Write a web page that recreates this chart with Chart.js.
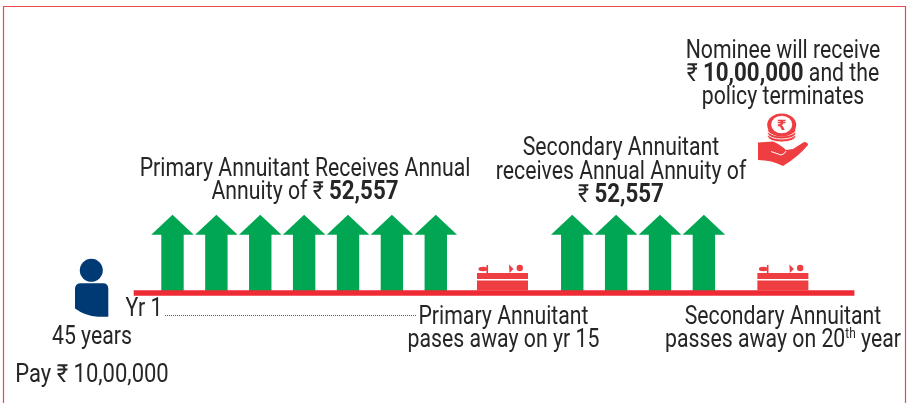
<!DOCTYPE html>
<html>
<head>
<meta charset="utf-8">
<title>Annuity timeline</title>
<script src="https://cdn.jsdelivr.net/npm/chart.js@4"></script>
<style>
    html, body { margin: 0; padding: 0; background: #fff; }
    #wrap { width: 915px; height: 403px; }
</style>
</head>
<body>
<div id="wrap"><canvas id="timeline" width="915" height="403"></canvas></div>
<script>
// timeline slots (not to scale with the years)
const primarySlots = [1, 2, 3, 4, 5, 6, 7];
const secondarySlots = [10.11, 11.11, 12.11, 13.11];
const deathSlots = [8.52, 14.91];
const lineSlots = [0.116, 16.54];
const dottedSlots = [0.83, 6.56];
const annualAnnuity = 52557;
const dottedLevel = -15102;

const GREEN = '#00a651';
const RED = '#ee2a35';
const ICON_RED = '#ef3e42';
const NAVY = '#003a75';
const TEXT = '#262628';

// text lines: [centre x, baseline y, runs, squeeze], a run is [text, style]
const labels = [
    [783, 58, [['Nominee will receive']]],
    [783, 81, [['₹ '], ['10,00,000', 'b'], [' and the']]],
    [783, 104, [['policy terminates']]],
    [621, 155, [['Secondary Annuitant']]],
    [621, 179, [['receives Annual Annuity of']]],
    [621, 202, [['₹ '], ['52,557', 'b']]],
    [305, 176, [['Primary Annuitant Receives Annual']]],
    [305, 199, [['Annuity of ₹ '], ['52,557', 'b']]],
    [144, 316, [['Yr 1']]],
    [503.5, 324, [['Primary Annuitant']]],
    [503.5, 347, [['pases away on yr 15']]],
    [783, 324, [['Secondary Annuitant']]],
    [783, 347, [['passes away on 20'], ['th', 's'], [' year']]],
    [92, 344, [['45 years']]],
    [92, 382, [['Pay ₹ 10,00,000']], 0.88]
];

const SQUEEZE = 0.85;

function runFont(style) {
    if (style === 'b') return '700 25px Roboto';
    if (style === 's') return '400 14px Roboto';
    return '400 25px Roboto';
}

function runSqueeze(style, squeeze) {
    return style === 'b' ? squeeze * 1.05 : squeeze;
}

function drawLabel(ctx, cx, y, runs, squeeze) {
    let width = 0;
    runs.forEach(r => {
        ctx.font = runFont(r[1]);
        width += ctx.measureText(r[0]).width * runSqueeze(r[1], squeeze);
    });
    let x = cx - width / 2;
    runs.forEach(r => {
        const sq = runSqueeze(r[1], squeeze);
        ctx.save();
        ctx.font = runFont(r[1]);
        ctx.fillStyle = TEXT;
        ctx.textBaseline = 'alphabetic';
        ctx.translate(x, r[1] === 's' ? y - 9 : y);
        ctx.scale(sq, 1);
        ctx.fillText(r[0], 0, 0);
        ctx.restore();
        ctx.font = runFont(r[1]);
        x += ctx.measureText(r[0]).width * sq;
    });
}

function drawArrow(ctx, bar) {
    const halfShaft = bar.width / 2;
    const halfHead = halfShaft * 1.9;
    const headBase = bar.y + 20;
    ctx.fillStyle = GREEN;
    ctx.beginPath();
    ctx.moveTo(bar.x, bar.y);
    ctx.lineTo(bar.x + halfHead, headBase);
    ctx.lineTo(bar.x + halfShaft, headBase);
    ctx.lineTo(bar.x + halfShaft, bar.base - 2);
    ctx.lineTo(bar.x - halfShaft, bar.base - 2);
    ctx.lineTo(bar.x - halfShaft, headBase);
    ctx.lineTo(bar.x - halfHead, headBase);
    ctx.closePath();
    ctx.fill();
}

function drawTomb(ctx, x, y) {
    ctx.fillStyle = ICON_RED;
    ctx.fillRect(x - 25.5, y - 12.5, 51, 10);
    ctx.fillRect(x - 25.5, y - 20, 51, 6);
    // lid ornaments
    ctx.beginPath();
    ctx.ellipse(x - 19.5, y - 24, 4.5, 2.2, 0, 0, Math.PI * 2);
    ctx.fill();
    ctx.fillRect(x - 16, y - 28, 1.6, 8);
    ctx.beginPath();
    ctx.arc(x + 17.3, y - 25, 3.2, 0, Math.PI * 2);
    ctx.fill();
    ctx.beginPath();
    ctx.moveTo(x + 6.5, y - 28.5);
    ctx.lineTo(x + 11, y - 24);
    ctx.lineTo(x + 7, y - 20);
    ctx.closePath();
    ctx.fill();
}

function drawPerson(ctx) {
    ctx.fillStyle = NAVY;
    ctx.beginPath();
    ctx.arc(91.3, 270.3, 11.5, 0, Math.PI * 2);
    ctx.fill();
    ctx.beginPath();
    ctx.moveTo(75, 289);
    ctx.quadraticCurveTo(75, 283.3, 81, 283.3);
    ctx.lineTo(103, 283.3);
    ctx.quadraticCurveTo(108.3, 283.3, 108.3, 289);
    ctx.lineTo(108.3, 316.7);
    ctx.lineTo(98, 316.7);
    ctx.quadraticCurveTo(85, 316, 75, 308.5);
    ctx.closePath();
    ctx.fill();
}

function drawCoinHand(ctx) {
    const cx = 781.7;
    ctx.fillStyle = ICON_RED;
    ctx.strokeStyle = '#fff';
    ctx.lineWidth = 0.9;
    // stacked coins, lowest first
    [136.5, 133.5, 130.5].forEach(y => {
        ctx.beginPath();
        ctx.ellipse(cx, y, 14, 5.5, 0, 0, Math.PI * 2);
        ctx.fill();
        ctx.stroke();
    });
    ctx.beginPath();
    ctx.ellipse(cx, 125, 14.5, 11.5, 0, 0, Math.PI * 2);
    ctx.fill();
    ctx.fillStyle = '#fff';
    ctx.beginPath();
    ctx.ellipse(cx, 124.5, 10.5, 8.8, 0, 0, Math.PI * 2);
    ctx.fill();
    ctx.fillStyle = ICON_RED;
    ctx.font = '700 14px "DejaVu Sans"';
    ctx.textAlign = 'center';
    ctx.fillText('₹', cx, 129.5);
    ctx.textAlign = 'left';
    // hand
    ctx.fillStyle = ICON_RED;
    ctx.beginPath();
    ctx.moveTo(758, 142.5);
    ctx.lineTo(773, 141.5);
    ctx.quadraticCurveTo(781, 145, 786, 150);
    ctx.lineTo(793, 149);
    ctx.lineTo(804, 142);
    ctx.quadraticCurveTo(808, 142, 808, 145);
    ctx.quadraticCurveTo(798, 157, 783, 166);
    ctx.quadraticCurveTo(772, 160, 758, 160);
    ctx.closePath();
    ctx.fill();
    ctx.strokeStyle = '#fff';
    ctx.lineWidth = 1;
    ctx.beginPath();
    ctx.moveTo(771, 151.5);
    ctx.lineTo(781, 155);
    ctx.quadraticCurveTo(785, 154, 786, 151);
    ctx.stroke();
}

// frame, icons and text around the marks
const decorPlugin = {
    id: 'decor',
    // the bars are drawn as arrows, from the element geometry
    beforeDatasetDraw(chart, args) {
        if (args.meta.type !== 'bar') return;
        args.meta.data.forEach(bar => drawArrow(chart.ctx, bar));
        return false;
    },
    afterDraw(chart) {
        const ctx = chart.ctx;
        const xs = chart.scales.x;
        const ys = chart.scales.y;
        ctx.save();
        ctx.strokeStyle = '#e9484d';
        ctx.lineWidth = 1.2;
        ctx.beginPath();
        ctx.moveTo(3.5, 403);
        ctx.lineTo(3.5, 6.5);
        ctx.lineTo(905.5, 6.5);
        ctx.lineTo(905.5, 403);
        ctx.stroke();
        deathSlots.forEach(s => drawTomb(ctx, xs.getPixelForValue(s), ys.getPixelForValue(0)));
        drawPerson(ctx);
        drawCoinHand(ctx);
        labels.forEach(l => drawLabel(ctx, l[0], l[1], l[2], l[3] || SQUEEZE));
        ctx.restore();
    }
};

const pts = (xs, y) => xs.map(x => ({ x: x, y: y }));

new Chart(document.getElementById('timeline'), {
    data: {
        datasets: [
            {
                type: 'line',
                label: 'Timeline',
                data: pts(lineSlots, 0),
                borderColor: RED,
                borderWidth: 5.6,
                borderCapStyle: 'butt',
                pointRadius: 0,
                order: 1
            },
            {
                type: 'line',
                label: 'Yr 1 leader',
                data: pts(dottedSlots, dottedLevel),
                borderColor: '#555',
                borderWidth: 1,
                borderDash: [1, 1],
                pointRadius: 0,
                order: 1
            },
            {
                type: 'bar',
                label: 'Primary annuity',
                data: pts(primarySlots, annualAnnuity),
                backgroundColor: GREEN,
                barThickness: 22.4,
                grouped: false,
                order: 2
            },
            {
                type: 'bar',
                label: 'Secondary annuity',
                data: pts(secondarySlots, annualAnnuity),
                backgroundColor: GREEN,
                barThickness: 22.4,
                grouped: false,
                order: 2
            }
        ]
    },
    options: {
        responsive: false,
        animation: false,
        layout: { padding: 0 },
        plugins: { legend: { display: false }, tooltip: { enabled: false } },
        scales: {
            x: { type: 'linear', display: false, min: -2.931, max: 17.921, offset: false, grid: { display: false } },
            y: { type: 'linear', display: false, min: -73835, max: 196673, grid: { display: false } }
        }
    },
    plugins: [decorPlugin]
});
</script>
</body>
</html>
